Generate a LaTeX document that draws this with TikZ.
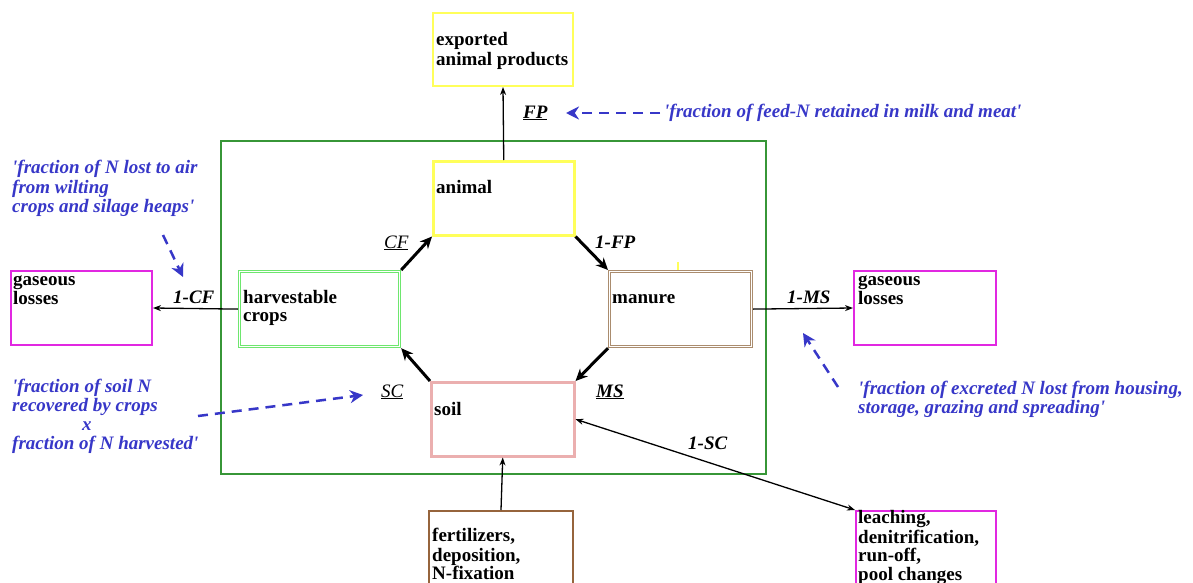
\documentclass[tikz,border=0pt]{standalone}
\usepackage{fontspec}
\setmainfont{Liberation Serif}
\usetikzlibrary{arrows.meta}
\definecolor{yel}{RGB}{255,255,90}
\definecolor{outergreen}{RGB}{55,150,55}
\definecolor{cropgreen}{RGB}{110,230,110}
\definecolor{manbrown}{RGB}{170,140,110}
\definecolor{soilpink}{RGB}{235,175,175}
\definecolor{mag}{RGB}{225,40,225}
\definecolor{fertbrown}{RGB}{150,100,60}
\definecolor{blu}{RGB}{55,55,200}
\newcommand{\sq}{\textquotesingle}
\begin{document}
\begin{tikzpicture}[x=1pt,y=-1pt,
  box/.style={draw, anchor=north west, inner sep=0pt, line width=2pt},
  dbl/.style={line width=3.2pt, postaction={draw=white, line width=0.9pt}},
  txt/.style={anchor=north west, inner sep=0pt, align=left, font=\fontsize{19}{18.5}\selectfont\bfseries},
  note/.style={anchor=north west, inner sep=0pt, align=left, text=blu, font=\fontsize{19}{19}\selectfont\bfseries\itshape},
  lab/.style={anchor=base west, inner sep=0pt, font=\fontsize{19}{19}\selectfont\bfseries\itshape},
  labi/.style={anchor=base west, inner sep=0pt, font=\fontsize{19}{19}\selectfont\itshape},
  flowthin/.style={line width=1.3pt, -{Stealth[length=8pt,width=6pt]}},
  flowthick/.style={line width=3pt, -{Stealth[length=12pt,width=11pt]}},
  hint/.style={draw=blu, line width=2.5pt, dash pattern=on 10pt off 7pt, -{Stealth[length=13pt,width=13pt]}}
]
\useasboundingbox[fill=white] (0,0) rectangle (1193,583);

% outer system boundary
\draw[outergreen, line width=2.5pt] (221,141) rectangle (766,474);

% boxes
\node[box, draw=yel, minimum width=140pt, minimum height=73pt] (exp) at (432,12) {};
\node[box, draw=yel, line width=2.5pt, minimum width=141pt, minimum height=74pt] (animal) at (432,160) {};
\node[box, draw=cropgreen, dbl, minimum width=160pt, minimum height=75pt] (crops) at (238,270) {};
\node[box, draw=manbrown, dbl, minimum width=142pt, minimum height=75pt] (manure) at (608,270) {};
\node[box, draw=soilpink, line width=2.5pt, minimum width=143pt, minimum height=74pt] (soil) at (430,381) {};
\node[box, draw=mag, minimum width=141pt, minimum height=74pt] (gasL) at (10,270) {};
\node[box, draw=mag, minimum width=142pt, minimum height=74pt] (gasR) at (853,270) {};
\node[box, draw=fertbrown, minimum width=144pt, minimum height=80pt] (fert) at (428,510) {};
\node[box, draw=mag, minimum width=140pt, minimum height=80pt] (leach) at (855,510) {};

% box texts
\node[txt] (expT) at (436,32) {\strut exported\\animal products};
\node[txt] (animalT) at (436,180) {\strut animal};
\node[txt] (cropsT) at (243,290) {\strut harvestable\\crops};
\node[txt] (manureT) at (612,290) {\strut manure};
\node[txt] (soilT) at (434,402) {\strut soil};
\node[txt] (gasLT) at (13,272) {\strut gaseous\\losses};
\node[txt] (gasRT) at (858,272) {\strut gaseous\\losses};
\node[txt] (fertT) at (432,528) {\strut fertilizers,\\deposition,\\N-fixation};
\node[txt] (leachT) at (858,510) {\strut leaching,\\denitrification,\\run-off,\\pool changes};

% flows
\draw[flowthin] (animal.north) -- (exp.south);
\draw[flowthick] (crops.north east) -- (animal.south west);
\draw[flowthick] (animal.south east) -- (manure.north west);
\draw[flowthick] (manure.south west) -- (soil.north east);
\draw[flowthick] (soil.north west) -- (crops.south east);
\draw[flowthin] (crops.west) -- (gasL.east);
\draw[flowthin] (manure.east) -- (gasR.west);
\draw[flowthin] (fert.north) -- (soil.south);
\draw[line width=1.3pt, {Stealth[length=8pt,width=6pt]}-{Stealth[length=8pt,width=6pt]}] (soil.east) -- (leach.north west);

% small yellow tick
\draw[yel, line width=1.5pt] (678,262) -- (678,270);

% flow labels
\node[lab] (FP) at (523,118) {\underline{FP}};
\node[labi] (CF) at (384,248) {\underline{CF}};
\node[lab] (oneFP) at (595,248) {1-FP};
\node[lab] (oneCF) at (173,303) {1-CF};
\node[lab] (oneMS) at (787,303) {1-MS};
\node[labi] (SC) at (381,397) {\underline{SC}};
\node[lab] (MS) at (596,397) {\underline{MS}};
\node[lab] (oneSC) at (688,449) {1-SC};

% explanatory notes
\node[note] (nFP) at (664,104) {\strut \sq fraction of feed-N retained in milk and meat\sq};
\node[note] (nCF) at (12,160) {\strut \sq fraction of N lost to air\\from wilting\\crops and silage heaps\sq};
\node[note] (nSC) at (12,379) {\strut \sq fraction of soil N\\recovered by crops\\\hspace*{70pt}x\\fraction of N harvested\sq};
\node[note] (nMS) at (858,381) {\strut \sq fraction of excreted N lost from housing,\\storage, grazing and spreading\sq};

\coordinate (hFPs) at (660,113);
\coordinate (hFPe) at (566,113);
\coordinate (hCFs) at (163,235);
\coordinate (hCFe) at (183,277);
\coordinate (hSCs) at (198,416);
\coordinate (hSCe) at (363,395);
\coordinate (hMSs) at (838,387);
\coordinate (hMSe) at (803,333);
\draw[hint] (hFPs) -- (hFPe);
\draw[hint] (hCFs) -- (hCFe);
\draw[hint] (hSCs) -- (hSCe);
\draw[hint] (hMSs) -- (hMSe);
\end{tikzpicture}
\end{document}
